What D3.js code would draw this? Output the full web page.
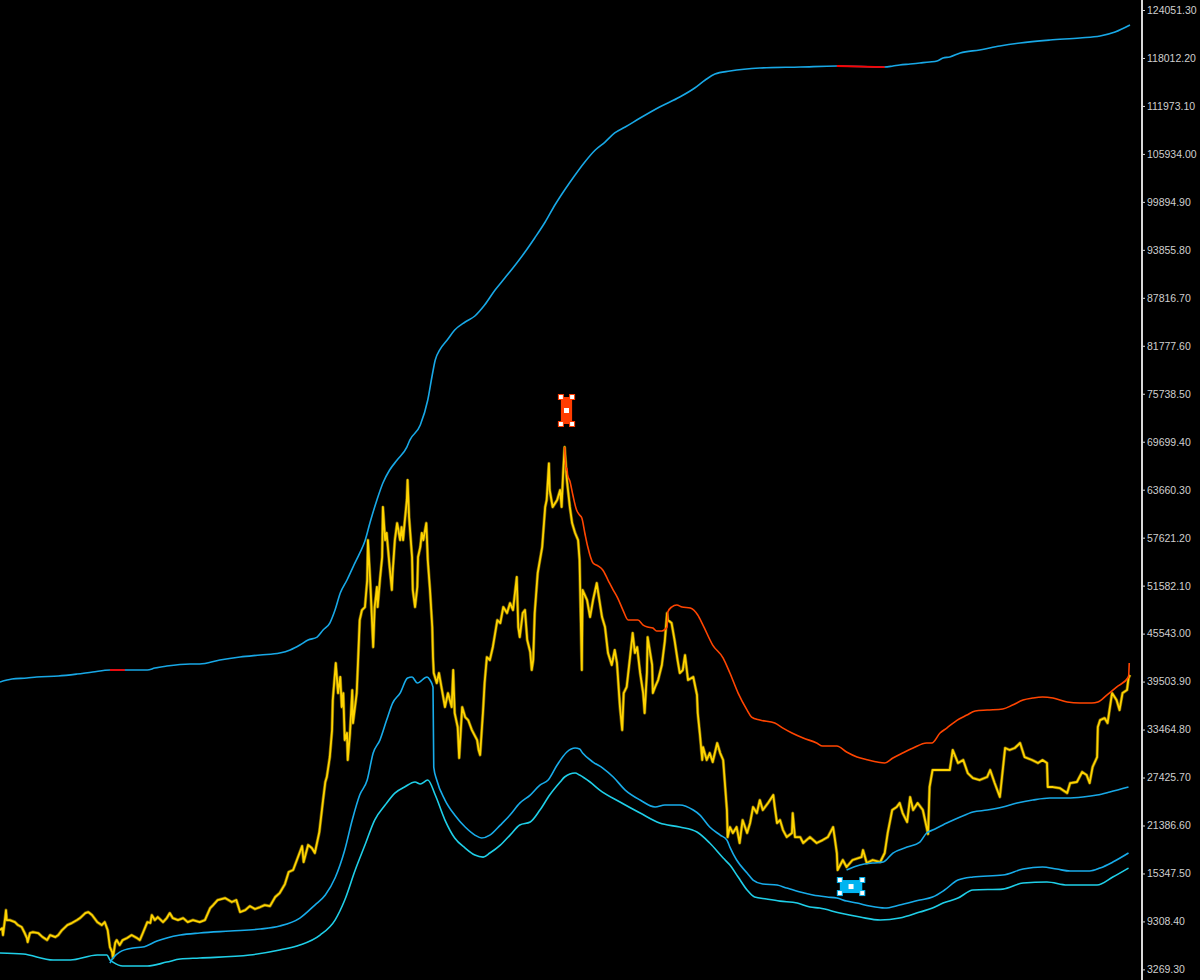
<!DOCTYPE html>
<html><head><meta charset="utf-8">
<script src="https://cdn.jsdelivr.net/npm/d3@7"></script>
<style>html,body{margin:0;padding:0;background:#000;}svg{display:block;}</style>
</head><body>
<svg id="chart" width="1200" height="980"></svg>
<script>
// x values are days since 2019-10-17, y values are prices
const dayDomain = [0, 1511];
const priceDomain = [3269.3, 124051.3];
const tickValues = [124051.3,118012.2,111973.1,105934.0,99894.9,93855.8,87816.7,81777.6,75738.5,69699.4,63660.3,57621.2,51582.1,45543.0,39503.9,33464.8,27425.7,21386.6,15347.5,9308.4,3269.3];

const price = [[0,8220],[3,8470],[4,7590],[7,9860],[8,10740],[9,9480],[13,9480],[20,9230],[24,8850],[29,8600],[33,7850],[36,7220],[37,6710],[40,7850],[44,7970],[51,7850],[57,7340],[63,6960],[67,7590],[74,7340],[78,7590],[83,8220],[90,8850],[96,9100],[103,9480],[107,9730],[114,10360],[118,10490],[123,10110],[130,9230],[136,8850],[140,9230],[144,8220],[147,6080],[150,5450],[151,4700],[154,6590],[156,6960],[160,6330],[164,6960],[170,7220],[176,7590],[183,7220],[187,6960],[191,7850],[197,9230],[201,9110],[203,10110],[207,9480],[211,9860],[218,9230],[223,9730],[227,10360],[231,9730],[238,9480],[245,9730],[251,9230],[258,9480],[267,9230],
[274,9480],[281,10990],[285,11370],[291,12000],[301,12250],[310,11750],[316,12000],[321,10490],[328,10740],[334,11240],[341,10870],[348,11120],[354,11370],[361,11240],[368,12380],[374,12880],[381,14010],[386,15530],[392,15780],[397,17040],[404,18800],[406,16780],[412,18930],[417,18550],[421,17920],[427,20560],[432,24590],[435,26860],[437,27490],
[441,30000],[444,33400],[445,37180],[449,41840],[452,38060],[455,40080],[457,36300],[459,38060],[461,32140],[464,33030],[465,29630],[468,33030],[471,38440],[472,34280],[477,38060],[479,42590],[481,47250],[484,48510],[488,48890],[491,52290],[492,57320],[495,52290],[497,48130],[499,43850],[501,48890],[504,51410],[505,48890],[508,52290],[511,55180],[512,61480],[515,57320],[517,58210],[519,56070],[521,53920],[524,51030],[525,53170],[528,57320],[531,59460],[532,58960],[535,57320],[537,58960],[539,57320],[541,59460],[544,62360],[545,64880],[547,60220],[551,55180],[552,51030],[555,48890],[558,51410],[559,55180],[562,56440],[564,58210],[566,57320],[570,59460],[571,57320],[572,54810],[575,51030],[578,46370],[579,42590],[580,40580],[584,39320],[587,40580],[591,38440],[595,36300],[599,38060],[604,36300],[606,40960],[608,35540],[612,33780],[614,29880],[618,36300],[622,35040],[626,34660],[631,33400],[638,32140],[640,30890],[642,30260],
[646,35920],[648,39320],[651,42590],[655,42220],[659,43850],[665,47250],[669,46870],[673,48890],[678,48130],[682,49390],[686,48510],[689,51030],[691,52670],[693,46370],[695,45110],[699,48130],[702,48510],[705,44730],[709,43220],[711,40960],[713,42220],[715,48130],[719,53170],[725,56440],[729,61480],[731,62360],[734,66970],[735,63620],[739,61480],[745,62360],[749,63620],[751,61480],[753,65760],[755,69030],[758,64880],[762,61480],[765,59460],[769,58210],[773,57320],[775,54810],[778,40960],[779,51030],[785,49770],[789,47630],[793,49770],[798,51910],[800,50650],[805,47630],[809,46370],[813,43100],[818,41590],[822,43480],[825,41840],[829,36300],[832,33400],[834,38060],[838,38830],[845,44730],[846,45620],[849,43100],[852,43850],[856,40580],[860,38060],[862,35540],[865,40580],[866,45110],[872,41590],[873,38060],[876,38830],[880,39700],[885,41590],[889,44610],[892,48130],[893,47250],[898,46870],[902,44730],[906,42220],[909,40580],
[913,40960],[916,42840],[920,39700],[927,40080],[932,37810],[933,35540],[936,32780],[939,29630],[940,31260],[945,29630],[949,30510],[953,29370],[959,31770],[963,30510],[967,29630],[969,27110],[972,23330],[973,19930],[976,21190],[980,20440],[985,21190],[989,19180],[993,22070],[999,20440],[1003,21700],[1007,23710],[1012,22950],[1016,24590],[1020,23330],[1027,24210],[1034,25220],[1036,23710],[1039,21690],[1043,22070],[1047,20810],[1052,19930],[1059,20440],[1060,22950],[1063,19930],[1070,19930],[1074,19180],[1083,19930],[1092,19180],[1100,19550],[1107,19930],[1114,21190],[1116,19930],[1119,17920],[1120,15780],[1127,17040],[1132,16160],[1140,17040],[1152,17410],[1154,18300],[1159,16660],[1167,17040],[1177,16790],[1183,17920],[1187,20440],[1193,23330],[1199,23710],[1203,24210],[1207,22950],[1213,21820],[1217,24970],[1221,23330],[1227,24210],[1234,23330],[1241,20310],[1243,26230],[1247,28370],[1254,28370],
[1261,28370],[1270,28370],[1274,30890],[1281,29250],[1288,29630],[1294,27990],[1301,27360],[1310,27110],[1320,27490],[1324,28370],[1330,26730],[1337,24970],[1344,31140],[1350,30890],[1357,31140],[1364,31770],[1370,30000],[1380,29630],[1388,29250],[1394,29630],[1400,29250],[1401,26230],[1408,26230],[1417,26100],[1427,25470],[1431,26730],[1440,26860],[1447,28120],[1453,27740],[1457,26730],[1461,28750],[1467,30000],[1468,33780],[1471,34660],[1477,34910],[1481,34280],[1487,38060],[1493,37180],[1497,35920],[1501,38060],[1507,38440],[1509,39950],[1511,40330]];

const upperBand = [[0,39450],[16,39820],[36,39950],[49,40080],[78,40200],[103,40450],[124,40710],[147,40960],[167,40960],[180,40960],[197,40960],[207,41210],[223,41460],[254,41720],[267,41720],[294,42220],[321,42590],[348,42850],[374,43100],[388,43480],[401,44100],[412,44730],[424,45110],[432,45990],[441,46870],[448,48510],[455,50650],[464,52290],[472,53920],[481,55680],[488,57200],[495,59600],[504,62360],[512,64500],[521,66140],[531,67400],[544,69030],[548,69910],[562,71800],[572,74950],[578,78100],[582,79990],[588,81250],[598,82500],[608,83760],[622,84770],[635,85530],[648,86910],[662,88800],[675,90310],[689,91950],[702,93580],[715,95350],[729,97360],[742,99500],[755,101390],[769,103280],[782,104920],[796,106430],[809,107430],[822,108570],[836,109320],[856,110450],[882,111840],[909,113100],[929,114230],[943,115240],[956,115990],[976,116370],[1016,116750],[1070,116870],[1119,117000],[1183,116870],[1194,117000],[1203,117130],[1217,117250],[1230,117380],[1243,117510],[1253,117630],[1261,118010],[1270,118140],[1284,118640],[1310,119020],[1337,119520],[1364,119900],[1404,120270],[1444,120530],[1471,120780],[1491,121280],[1511,122160]];
const upperAlertRanges = [[147,167],[1119,1183]];

const resistance = [[755,69030],[757,66140],[758,66390],[759,65520],[762,64760],[766,62990],[771,61100],[775,60470],[778,60090],[782,58210],[786,56440],[793,54430],[800,54050],[806,53550],[813,52290],[820,51030],[826,50020],[833,48510],[840,47250],[853,47250],[860,46620],[866,46370],[873,46240],[878,45870],[885,45870],[892,46370],[893,48260],[898,48890],[905,49140],[912,48890],[923,48760],[933,47880],[940,46620],[953,44100],[967,42470],[976,40580],[987,38060],[999,35920],[1005,35040],[1016,34660],[1036,34280],[1047,33650],[1059,33030],[1074,32400],[1092,31770],[1100,31390],[1119,31390],[1132,30630],[1146,30000],[1161,29630],[1173,29370],[1183,29250],[1194,29880],[1207,30510],[1221,31140],[1239,31770],[1246,31770],[1257,33030],[1266,33650],[1280,34660],[1293,35290],[1304,35800],[1320,35920],[1341,36050],[1354,36550],[1368,37180],[1381,37430],[1394,37560],[1408,37430],[1427,36930],[1444,36800],[1460,36800],[1468,36930],[1480,37810],[1493,38810],[1509,40080],[1510,41840]];

const lowerBand1 = [[147,4070],[151,4700],[160,5450],[178,5960],[191,6080],[210,6840],[223,7220],[241,7590],[267,7850],[308,8100],[348,8350],[374,8730],[401,9730],[421,11370],[435,12630],[448,14770],[461,18300],[471,22070],[481,25220],[491,27110],[499,30510],[508,32140],[517,34660],[525,36800],[535,38060],[545,39950],[551,40080],[558,39320],[571,40080],[575,39700],[579,38810],[580,28740],[584,27110],[595,24590],[608,22700],[622,21190],[635,20180],[644,19810],[655,20180],[669,21440],[682,22700],[695,24210],[709,25220],[722,26480],[733,27110],[745,29000],[758,30640],[769,31140],[775,31010],[779,30510],[793,29370],[806,28620],[820,27490],[836,25850],[856,24590],[876,23710],[889,23960],[909,23960],[927,23330],[936,22700],[949,21190],[963,20180],[972,19550],[976,18670],[985,17040],[999,15400],[1007,14520],[1020,14020],[1039,13890],[1052,13510],[1070,13010],[1087,12630],[1106,12380],[1119,12250],[1132,11870],[1146,11620],[1163,11240],[1183,10990],[1203,11370],[1230,12000],[1247,12380],[1263,13260],[1281,14520],[1301,14900],[1341,15150],[1368,15900],[1394,16160],[1413,15900],[1431,15650],[1457,15650],[1471,16030],[1488,16780],[1509,17920]];

const lowerBand2 = [[0,5330],[31,5200],[71,4450],[94,4450],[130,5080],[143,5080],[147,4450],[151,4190],[164,3690],[197,3690],[223,4190],[241,4570],[267,4700],[334,5080],[374,5710],[401,6330],[428,7590],[448,9480],[461,12000],[475,15780],[488,18920],[501,22070],[515,23960],[528,25470],[541,26230],[555,26860],[562,26610],[572,27110],[582,25220],[595,22070],[608,19810],[622,18550],[635,17660],[646,17410],[655,17920],[669,18920],[682,20180],[695,21440],[709,21820],[722,23330],[735,25220],[749,26860],[755,27490],[769,27990],[775,27740],[789,26860],[802,25850],[829,24340],[856,22950],[882,21690],[909,21190],[932,20560],[949,19180],[967,17290],[976,16410],[987,14900],[999,13260],[1009,12380],[1025,12130],[1043,11870],[1066,11620],[1083,11120],[1096,10990],[1123,10360],[1150,9860],[1177,9480],[1203,9730],[1230,10490],[1247,10990],[1261,11620],[1281,12250],[1301,13260],[1341,13380],[1368,14140],[1400,14270],[1427,13890],[1467,13890],[1488,14900],[1509,16030]];

const support = [[1132,15780],[1150,16410],[1167,16660],[1181,16790],[1194,17920],[1213,18670],[1230,19300],[1239,20440],[1247,20810],[1266,21690],[1284,22450],[1301,23080],[1320,23330],[1341,23710],[1360,24210],[1381,24590],[1404,24840],[1427,24840],[1448,24970],[1467,25220],[1484,25600],[1509,26230]];

const markerDays = [[750,765],[1123,1153]];
const markerValues = [[71930,75330],[12880,14520]];

const svg = d3.select("#chart");
svg.append("rect").attr("width",1200).attr("height",980).attr("fill","#000");
const x = d3.scaleLinear().domain(dayDomain).range([0,1130]);
const y = d3.scaleLinear().domain(priceDomain).range([969.4,10]);
const line = d3.line().x(d=>x(d[0])).y(d=>y(d[1]));

svg.append("defs").append("clipPath").attr("id","clip")
  .append("rect").attr("x",0).attr("y",0).attr("width",1141).attr("height",980);
const g = svg.append("g").attr("clip-path","url(#clip)");

// price
g.append("path").datum(price).attr("d",line).attr("fill","none")
  .attr("stroke","#6e5a00").attr("stroke-width",3.2).attr("stroke-linejoin","round");
g.append("path").datum(price).attr("d",line).attr("fill","none")
  .attr("stroke","#ffd400").attr("stroke-width",1.8).attr("stroke-linejoin","round");

const bands = [
  {data: upperBand, color: "#18a8e6"},
  {data: lowerBand2, color: "#1fcfe8"},
  {data: lowerBand1, color: "#18acea"},
  {data: support, color: "#18a8e6"},
  {data: resistance, color: "#ff4500"}
];
const smoothLine = d3.line().x(d=>x(d[0])).y(d=>y(d[1])).curve(d3.curveMonotoneX);
bands.forEach(b => {
  g.append("path").datum(b.data).attr("d",smoothLine).attr("fill","none")
    .attr("stroke",b.color).attr("stroke-width",1.6).attr("stroke-linejoin","round");
});
upperAlertRanges.forEach(r => {
  const seg = upperBand.filter(d => d[0] >= r[0] && d[0] <= r[1]);
  g.append("path").datum(seg).attr("d",line).attr("fill","none")
    .attr("stroke","#ff0000").attr("stroke-width",1.8);
});

// markers
const markerColors = ["#ff3c00","#00b4f0"];
markerDays.forEach((md,i) => {
  const mv = markerValues[i];
  const x0 = x(md[0]), x1 = x(md[1]), y0 = y(mv[1]), y1 = y(mv[0]);
  const col = markerColors[i];
  g.append("rect").attr("x",x0).attr("y",y0).attr("width",x1-x0).attr("height",y1-y0).attr("fill",col);
  const pts = [[x0,y0],[x1,y0],[x0,y1],[x1,y1],[(x0+x1)/2,(y0+y1)/2]];
  pts.forEach((p,j) => {
    g.append("rect").attr("x",p[0]-2.5).attr("y",p[1]-2.5).attr("width",5).attr("height",5)
      .attr("fill","#fff").attr("stroke", j<4 ? col : "none").attr("stroke-width",1);
  });
});

// axis
svg.append("line").attr("x1",1142).attr("x2",1142).attr("y1",0).attr("y2",980)
  .attr("stroke","#d8d8d8").attr("stroke-width",2);
const axis = d3.axisRight(y).tickValues(tickValues).tickFormat(d3.format(".2f"))
  .tickSize(3).tickSizeOuter(0).tickPadding(2);
const ag = svg.append("g").attr("transform","translate(1142,0)").call(axis);
ag.select(".domain").remove();
ag.selectAll(".tick line").attr("stroke","#d8d8d8");
ag.selectAll(".tick text").attr("fill","#cfcfcf")
  .style("font-family","'Liberation Sans', Arial, sans-serif").style("font-size","10.5px");
</script>
</body></html>
